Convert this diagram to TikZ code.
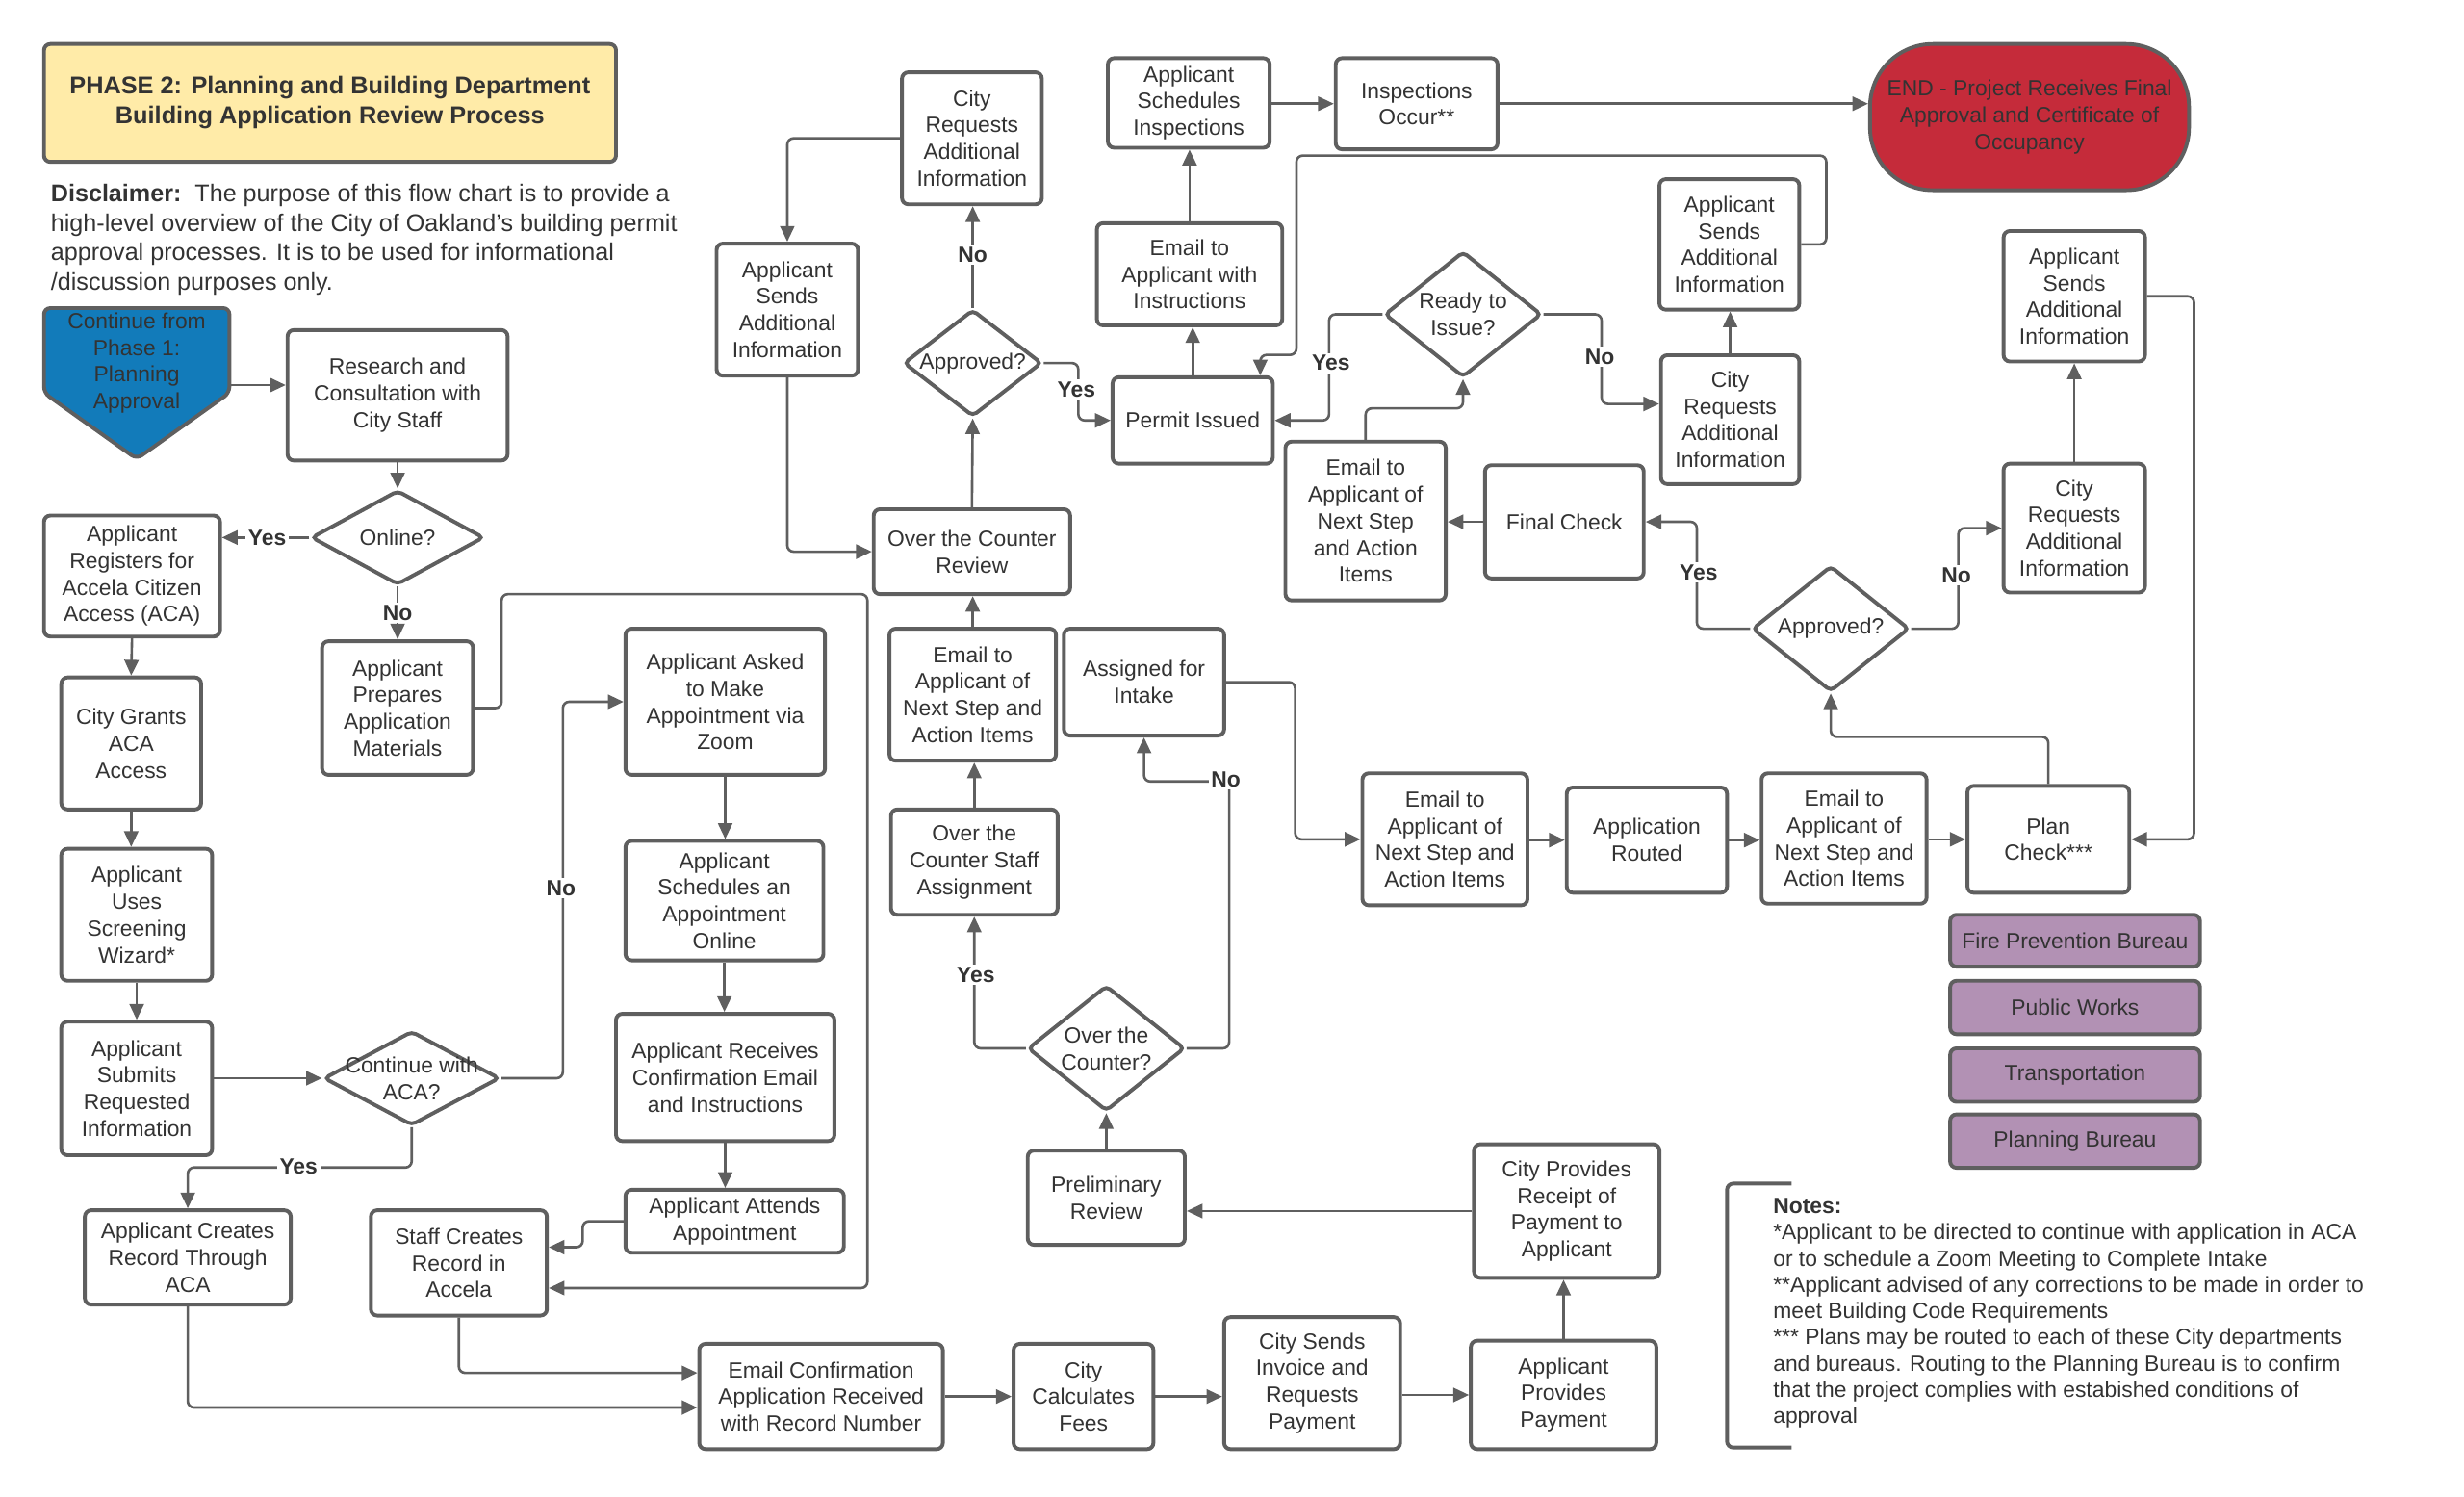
\documentclass[tikz,border=0pt]{standalone}
\usepackage{fontspec}
\setmainfont{Liberation Sans}
\usetikzlibrary{arrows.meta,shapes.geometric,calc}
\definecolor{ln}{HTML}{5F5F5F}
\definecolor{tx}{HTML}{333333}
\definecolor{ttl}{HTML}{FFEBA8}
\definecolor{blu}{HTML}{127BBA}
\definecolor{rd}{HTML}{C52B3A}
\definecolor{pur}{HTML}{B291B4}
\tikzset{
 box/.style={draw=ln, line width=1.2pt, rounded corners=2pt, fill=white, align=center, text=tx, inner sep=1pt, font=\fontsize{7}{8.5}\selectfont},
 dia/.style={diamond, draw=ln, line width=1.2pt, rounded corners=1.5pt, inner sep=0pt, fill=white},
 txt/.style={align=center, text=tx, inner sep=0pt, font=\fontsize{7}{8.5}\selectfont},
 con/.style={draw=ln, line width=0.8pt, rounded corners=2pt, -{Triangle[length=5pt,width=4.5pt]}},
 lbl/.style={fill=white, inner sep=0.8pt, text=tx, font=\fontsize{7}{8.5}\selectfont\bfseries},
 bur/.style={fill=pur},
}
\newcommand\mybox[7][]{\node[box,minimum width={(#5-#3)*0.5pt},minimum height={(#6-#4)*0.5pt},#1] (#2) at ({(#3+#5)/2},{(#4+#6)/2}) {#7};}
\newcommand\mydia[6]{\node[dia,minimum width={#4*0.5pt},minimum height={#5*0.5pt}] (#1) at (#2,#3) {};\node[txt] (#1t) at (#1.center) {#6};}
\begin{document}
\begin{tikzpicture}[x=0.5pt,y=-0.5pt]
\useasboundingbox (0,0) rectangle (1568,952);
% title and disclaimer
\mybox[fill=ttl,font=\fontsize{7.75}{9.5}\selectfont\bfseries]{title}{28}{28}{392}{103}{PHASE 2: Planning and Building Department\\Building Application Review Process}
\node[anchor=north west, align=left, inner sep=0pt, text=tx, font=\fontsize{7.7}{9.35}\selectfont] (disc) at (32,117) {\textbf{Disclaimer:}\ \ The purpose of this flow chart is to provide a\\high-level overview of the City of Oakland's building permit\\approval processes. It is to be used for informational\\/discussion purposes only.};
% start shape
\path[draw=ln, line width=1.2pt, fill=blu, rounded corners=2pt] (28,196) -- (146,196) -- (146,250) -- (87,292) -- (28,250) -- cycle;
\node[txt] (start) at (87,231) {Continue from\\Phase 1:\\Planning\\Approval};
\coordinate (startout) at (146,245);
% left column
\mybox{research}{183}{210}{323}{293}{Research and\\Consultation with\\City Staff}
\mydia{online}{253}{342}{110}{60}{Online?}
\mybox{registers}{28}{328}{140}{405}{Applicant\\Registers for\\Accela Citizen\\Access (ACA)}
\mybox{prepares}{205}{408}{301}{493}{Applicant\\Prepares\\Application\\Materials}
\mybox{grants}{39}{431}{128}{515}{City Grants\\ACA\\Access}
\mybox{wizard}{39}{540}{135}{624}{Applicant\\Uses\\Screening\\Wizard*}
\mybox{submits}{39}{650}{135}{735}{Applicant\\Submits\\Requested\\Information}
\mydia{cont}{262}{686}{112}{60}{Continue with\\ACA?}
\mybox{creates}{54}{770}{185}{830}{Applicant Creates\\Record Through\\ACA}
\mybox{staff}{236}{770}{348}{837}{Staff Creates\\Record in\\Accela}
\mybox{asked}{398}{400}{525}{493}{Applicant Asked\\to Make\\Appointment via\\Zoom}
\mybox{schedules}{398}{535}{524}{611}{Applicant\\Schedules an\\Appointment\\Online}
\mybox{receives}{392}{645}{531}{726}{Applicant Receives\\Confirmation Email\\and Instructions}
\mybox{attends}{398}{757}{537}{797}{Applicant Attends\\Appointment}
% bottom row
\mybox{emailconf}{445}{855}{600}{922}{Email Confirmation\\Application Received\\with Record Number}
\mybox{calc}{645}{855}{734}{922}{City\\Calculates\\Fees}
\mybox{invoice}{779}{838}{891}{922}{City Sends\\Invoice and\\Requests\\Payment}
\mybox{provides}{936}{853}{1054}{922}{Applicant\\Provides\\Payment}
\mybox{receipt}{938}{728}{1056}{813}{City Provides\\Receipt of\\Payment to\\Applicant}
\mybox{prelim}{654}{732}{754}{792}{Preliminary\\Review}
\mydia{otc}{704}{667}{100}{80}{Over the\\Counter?}
% middle column
\mybox{staffassign}{567}{515}{673}{582}{Over the\\Counter Staff\\Assignment}
\mybox{emailL}{566}{400}{672}{484}{Email to\\Applicant of\\Next Step and\\Action Items}
\mybox{intake}{677}{400}{779}{468}{Assigned for\\Intake}
\mybox{otcreview}{556}{324}{681}{378}{Over the Counter\\Review}
\mydia{apprA}{619}{231}{88}{68}{Approved?}
\mybox{cityreqL}{574}{46}{663}{130}{City\\Requests\\Additional\\Information}
\mybox{sendsL}{456}{155}{546}{239}{Applicant\\Sends\\Additional\\Information}
\mybox{permit}{708}{240}{810}{295}{Permit Issued}
\mybox{emailinstr}{698}{142}{816}{207}{Email to\\Applicant with\\Instructions}
\mybox{schedinsp}{705}{37}{808}{94}{Applicant\\Schedules\\Inspections}
\mybox{insp}{850}{37}{953}{95}{Inspections\\Occur**}
\mybox[fill=rd,rounded corners=20pt]{end}{1190}{28}{1393}{121}{END - Project Receives Final\\Approval and Certificate of\\Occupancy}
% right part
\mydia{ready}{931}{200}{100}{80}{Ready to\\Issue?}
\mybox{emailmid}{818}{281}{920}{382}{Email to\\Applicant of\\Next Step\\and Action\\Items}
\mybox{finalcheck}{945}{296}{1046}{368}{Final Check}
\mybox{cityreqM}{1057}{226}{1145}{308}{City\\Requests\\Additional\\Information}
\mybox{sendsM}{1056}{114}{1145}{197}{Applicant\\Sends\\Additional\\Information}
\mydia{apprB}{1165}{400}{100}{80}{Approved?}
\mybox{cityreqR}{1275}{295}{1365}{377}{City\\Requests\\Additional\\Information}
\mybox{sendsR}{1275}{147}{1365}{230}{Applicant\\Sends\\Additional\\Information}
\mybox{plancheck}{1252}{500}{1355}{568}{Plan\\Check***}
\mybox{emailBR}{1121}{492}{1226}{575}{Email to\\Applicant of\\Next Step and\\Action Items}
\mybox{routed}{997}{501}{1099}{568}{Application\\Routed}
\mybox{emailBM}{867}{492}{972}{576}{Email to\\Applicant of\\Next Step and\\Action Items}
\mybox[bur]{fire}{1241}{582}{1400}{615}{Fire Prevention Bureau}
\mybox[bur]{works}{1241}{624}{1400}{658}{Public Works}
\mybox[bur]{transp}{1241}{667}{1400}{701}{Transportation}
\mybox[bur]{planb}{1241}{709}{1400}{743}{Planning Bureau}
% notes
\draw[ln, line width=1.2pt, rounded corners=2pt] (1140,753) -- (1099,753) -- (1099,921) -- (1140,921);
\node[anchor=north west, align=left, inner sep=0pt, text=tx, font=\fontsize{7}{8.35}\selectfont] (notes) at (1128,762) {\textbf{Notes:}\\{*}Applicant to be directed to continue with application in ACA\\or to schedule a Zoom Meeting to Complete Intake\\{**}Applicant advised of any corrections to be made in order to\\meet Building Code Requirements\\{***} Plans may be routed to each of these City departments\\and bureaus. Routing to the Planning Bureau is to confirm\\that the project complies with estabished conditions of\\approval};
% connectors
\draw[con] (startout) -- (startout -| research.west);
\draw[con] (research.south) -- (online.north);
\draw[con] (online.west) -- (online.west -| registers.east);
\draw[con] (online.south) -- (prepares.north);
\draw[con] (registers.south) -- (grants.north);
\draw[con] (grants.south) -- (grants.south |- wizard.north);
\draw[con] (wizard.south) -- (submits.north);
\draw[con] (submits.east |- cont.west) -- (cont.west);
\draw[con] (cont.south) |- ($(creates.north)+(0,-26)$) -- (creates.north);
\draw[con] (cont.east) -- ++(39,0) |- (asked.west);
\draw[con] (asked.south) -- (asked.south |- schedules.north);
\draw[con] (schedules.south) -- (schedules.south |- receives.north);
\draw[con] (receives.south) -- (receives.south |- attends.north);
\draw[con] (attends.west) -- ++(-26,0) |- ($(staff.east)+(0,-10)$);
\draw[con] (prepares.east) -- ++(17,0) |- (552,378) |- ($(staff.east)+(0,16)$);
\draw[con] (staff.south) |- ($(emailconf.west)+(0,-15)$);
\draw[con] (creates.south) |- ($(emailconf.west)+(0,7)$);
\draw[con] (emailconf.east) -- (calc.west);
\draw[con] (calc.east) -- (calc.east -| invoice.west);
\draw[con] (invoice.east |- provides.west) -- (provides.west);
\draw[con] (provides.north) -- (provides.north |- receipt.south);
\draw[con] (receipt.west) -- (receipt.west -| prelim.east);
\draw[con] (prelim.north) -- (otc.south);
\draw[con] (otc.west) -| (staffassign.south);
\draw[con] (otc.east) -- ++(27,0) |- ($(intake.south)+(0,28)$) -- (intake.south);
\draw[con] (staffassign.north) -- (staffassign.north |- emailL.south);
\draw[con] (emailL.north) -- (emailL.north |- otcreview.south);
\draw[con] (otcreview.north) -- (apprA.south);
\draw[con] (apprA.north) -- (apprA.north |- cityreqL.south);
\draw[con] (apprA.east) -- ++(22,0) |- (permit.west);
\draw[con] (cityreqL.west) -| (sendsL.north);
\draw[con] (sendsL.south) |- (otcreview.west);
\draw[con] (permit.north) -- (permit.north |- emailinstr.south);
\draw[con] (emailinstr.north) -- (emailinstr.north |- schedinsp.south);
\draw[con] (schedinsp.east |- insp.west) -- (insp.west);
\draw[con] (insp.east) -- (insp.east -| end.west);
\draw[con] (ready.west) -- ++(-34,0) |- (permit.east);
\draw[con] (ready.east) -- ++(37,0) |- ($(cityreqM.west)+(0,-10)$);
\draw[con] (emailmid.north) -- ++(0,-20) -| (ready.south);
\draw[con] (finalcheck.west) -- (finalcheck.west -| emailmid.east);
\draw[con] (cityreqM.north) -- (cityreqM.north |- sendsM.south);
\draw[con] (sendsM.east) -- ++(16,0) |- (825,99) |- ($(permit.north)+(43,-13)$) -- ($(permit.north)+(43,0)$);
\draw[con] (apprB.west) -- ++(-34,0) |- (finalcheck.east);
\draw[con] (apprB.east) -- ++(30,0) |- (cityreqR.west);
\draw[con] (cityreqR.north) -- (cityreqR.north |- sendsR.south);
\draw[con] (sendsR.east) -- ++(30,0) |- (plancheck.east);
\draw[con] (plancheck.north) -- ++(0,-30) -| (apprB.south);
\draw[con] (emailBM.east |- routed.west) -- (routed.west);
\draw[con] (routed.east) -- (routed.east -| emailBR.west);
\draw[con] (emailBR.east |- plancheck.west) -- (plancheck.west);
\draw[con] (intake.east) -- ++(44,0) |- (emailBM.west);
% labels
\node[lbl] (l1) at (170,342) {Yes};
\node[lbl] (l2) at (253,390) {No};
\node[lbl] (l3) at (190,742) {Yes};
\node[lbl] (l4) at (357,565) {No};
\node[lbl] (l5) at (621,620) {Yes};
\node[lbl] (l6) at (780,496) {No};
\node[lbl] (l7) at (619,162) {No};
\node[lbl] (l8) at (685,248) {Yes};
\node[lbl] (l9) at (847,231) {Yes};
\node[lbl] (l10) at (1018,227) {No};
\node[lbl] (l11) at (1081,364) {Yes};
\node[lbl] (l12) at (1245,366) {No};
\end{tikzpicture}
\end{document}
